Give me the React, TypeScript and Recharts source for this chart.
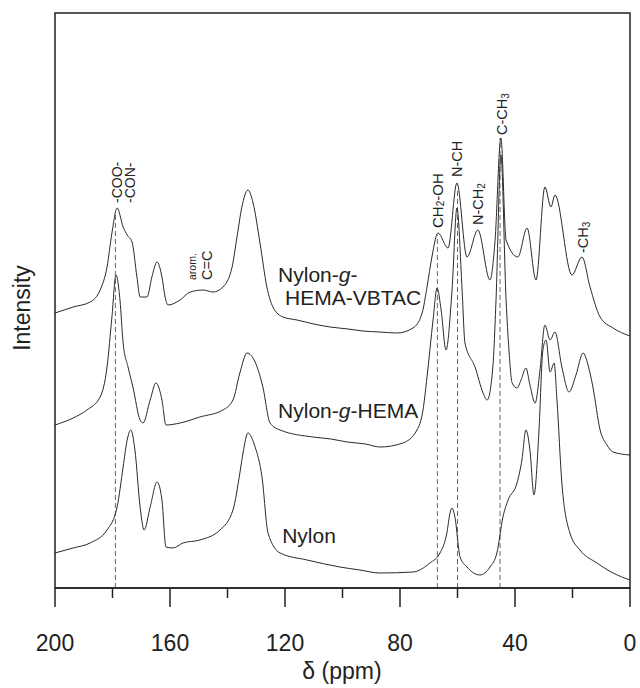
import React from 'react';
import { LineChart, Line, XAxis, YAxis, ReferenceLine, ReferenceArea, ReferenceDot } from 'recharts';

// 13C CP/MAS spectra, [chemical shift (ppm), intensity]
const vbtacTrace: [number, number][] = [
  [200, 275], [193.7, 281], [187.8, 286], [184.3, 298], [181.9, 321], [180.2, 355], [178.4, 380],
  [176.3, 361], [174.9, 353], [173.2, 346], [171.5, 311], [170.4, 291], [168.0, 291], [166.3, 311],
  [164.5, 326], [162.8, 311], [161.7, 291], [160.7, 283], [156.5, 288], [153.0, 296], [148.5, 298],
  [145.0, 296], [141.6, 301], [138.4, 321], [136.7, 351], [135.0, 381], [132.9, 398], [131.1, 385],
  [128.7, 345], [126.3, 301], [124.2, 281], [120.7, 271], [115.8, 268], [110.0, 264], [104.3, 261],
  [98.0, 259], [92.9, 257], [87.0, 256], [81.0, 255], [75.5, 260], [72.3, 275], [70.6, 301],
  [68.9, 331], [66.8, 355], [63.3, 340], [60.2, 405], [56.7, 331], [52.9, 358], [48.7, 308],
  [47.0, 345], [44.9, 450], [43.1, 348], [39.0, 331], [35.8, 360], [32.7, 308], [29.6, 401],
  [27.5, 381], [26.1, 393], [20.2, 313], [16.7, 331], [13.9, 301], [10.4, 271], [5.9, 260], [0, 252],
];

const hemaTrace: [number, number][] = [
  [200, 163], [193.7, 170], [188.9, 178], [184.3, 191], [181.9, 221], [180.2, 271], [178.8, 313],
  [177.4, 288], [176.3, 245], [174.6, 221], [172.9, 201], [170.4, 168], [169.4, 165], [166.9, 188],
  [164.9, 205], [162.8, 188], [161.4, 163], [156.5, 165], [149.6, 171], [141.6, 178], [138.1, 188],
  [135.7, 215], [133.2, 235], [130.4, 226], [127.7, 201], [125.2, 165], [121.7, 158], [110.3, 151],
  [104.0, 149], [98.4, 146], [92.0, 144], [87.0, 141], [79.0, 145], [74.1, 158], [72.0, 178],
  [70.6, 211], [68.5, 268], [67.1, 300], [65.7, 278], [64.0, 238], [61.9, 298], [60.2, 380],
  [58.4, 298], [57.4, 245], [53.9, 221], [51.1, 195], [49.7, 188], [47.7, 221], [46.6, 288],
  [44.9, 433], [43.1, 288], [42.1, 238], [41.0, 205], [39.3, 200], [37.9, 208], [36.2, 220],
  [34.8, 203], [33.0, 185], [31.3, 218], [29.6, 263], [27.8, 248], [26.1, 256], [23.7, 221],
  [21.2, 196], [18.8, 213], [16.3, 235], [14.6, 223], [12.9, 201], [10.4, 158], [8.0, 143],
  [5.9, 136], [0, 133],
];

const nylonTrace: [number, number][] = [
  [200, 35], [193.7, 40], [187.8, 45], [181.9, 58], [178.4, 81], [176.3, 121], [174.9, 148],
  [173.6, 158], [172.2, 138], [170.4, 81], [169.0, 58], [166.9, 81], [164.5, 106], [162.8, 88],
  [161.4, 41], [159.0, 40], [155.5, 45], [149.6, 48], [142.6, 58], [138.1, 78], [135.7, 115],
  [134.6, 135], [132.9, 155], [130.4, 141], [128.0, 111], [125.9, 55], [121.7, 35], [112.3, 28],
  [100.9, 21], [94.0, 18], [87.0, 15], [75.5, 16], [69.6, 25], [66.1, 35], [63.7, 55], [62.6, 75],
  [61.9, 80], [60.9, 71], [59.1, 31], [56.7, 21], [52.2, 13], [48.7, 21], [46.3, 35], [44.2, 71],
  [42.4, 88], [39.3, 105], [37.6, 128], [36.2, 158], [34.8, 138], [33.4, 93], [31.7, 155],
  [30.3, 238], [29.2, 248], [27.8, 216], [26.4, 225], [25.4, 188], [23.7, 105], [20.9, 55],
  [17.4, 38], [11.5, 25], [5.9, 15], [0, 8],
];

const ppmTicks = [0, 20, 40, 60, 80, 100, 120, 140, 160, 180, 200];

// assignment guides: [shift, top of the dashed line]
const guideLines: [number, number][] = [
  [179, 375],
  [67, 353],
  [60, 400],
  [45.2, 450],
];

const FONT = '"Liberation Sans", Arial, Helvetica, sans-serif';
const INK = '#222';

const toRows = (pts: [number, number][]) => pts.map(([ppm, i]) => ({ ppm, i }));

const PpmTick = (props: any) => {
  const { x, y, payload } = props;
  const major = payload.value % 40 === 0;
  return (
    <g>
      <line x1={x} y1={y} x2={x} y2={y + (major ? 19 : 10)} stroke={INK} strokeWidth={1.5} />
      {major && (
        <text x={x} y={y + 63} textAnchor="middle" fontSize={23} fill={INK} fontFamily={FONT}>
          {payload.value}
        </text>
      )}
    </g>
  );
};

// vertical peak label, reading bottom to top from the anchor point
const peakLabel = (content: React.ReactNode, size = 14.5) => (p: any) => (
  <text
    x={p.cx}
    y={p.cy}
    transform={`rotate(-90 ${p.cx} ${p.cy})`}
    textAnchor="start"
    dominantBaseline="central"
    fontSize={size}
    fill={INK}
    fontFamily={FONT}
  >
    {content}
  </text>
);

const traceName = (lines: React.ReactNode[], indent = 7) => (p: any) => (
  <text x={p.cx} y={p.cy} fontSize={21} fill={INK} fontFamily={FONT}>
    {lines.map((l, k) => (
      <tspan key={k} x={p.cx + (k > 0 ? indent : 0)} dy={k > 0 ? 23 : 0}>
        {l}
      </tspan>
    ))}
  </text>
);

const peakLabels: { ppm: number; i: number; text: React.ReactNode; size?: number }[] = [
  { ppm: 178.4, i: 385, text: '-COO-', size: 14 },
  { ppm: 173.9, i: 385, text: '-CON-', size: 14 },
  { ppm: 152.3, i: 308, text: 'arom.', size: 10.5 },
  { ppm: 147.1, i: 308, text: 'C=C' },
  {
    ppm: 67.1, i: 360, size: 15,
    text: <>CH<tspan fontSize={10} dy={3}>2</tspan><tspan dy={-3}>-OH</tspan></>,
  },
  { ppm: 60.2, i: 411, text: 'N-CH' },
  { ppm: 52.9, i: 363, text: <>N-CH<tspan fontSize={10} dy={3}>2</tspan></> },
  { ppm: 44.5, i: 453, text: <>C-CH<tspan fontSize={10} dy={3}>3</tspan></> },
  { ppm: 16.3, i: 335, text: <>-CH<tspan fontSize={10} dy={3}>3</tspan></> },
];

const traceNames: { ppm: number; i: number; lines: React.ReactNode[] }[] = [
  { ppm: 122.4, i: 306, lines: [<>Nylon-<tspan fontStyle="italic">g</tspan>-</>, 'HEMA-VBTAC'] },
  { ppm: 122.4, i: 170, lines: [<>Nylon-<tspan fontStyle="italic">g</tspan>-HEMA</>] },
  { ppm: 121.0, i: 45, lines: ['Nylon'] },
];

export default function App() {
  return (
    <div style={{ position: 'absolute', left: 0, top: 0, width: 640, height: 688, background: '#fff' }}>
      <LineChart width={640} height={688} margin={{ top: 13, right: 10, left: 55, bottom: 0 }}>
        <XAxis
          dataKey="ppm"
          type="number"
          domain={[0, 200]}
          reversed
          ticks={ppmTicks}
          interval={0}
          tick={PpmTick}
          tickLine={false}
          tickSize={0}
          tickMargin={0}
          height={100}
          axisLine={{ stroke: INK, strokeWidth: 1.5 }}
          allowDataOverflow
        />
        <YAxis type="number" domain={[0, 575]} hide allowDataOverflow />
        <ReferenceArea x1={200} x2={0} y1={0} y2={575} fill="none" stroke={INK} strokeWidth={1.5} />
        {guideLines.map(([ppm, top]) => (
          <ReferenceLine
            key={ppm}
            segment={[{ x: ppm, y: 0 }, { x: ppm, y: top }]}
            stroke="#666"
            strokeDasharray="5 3"
            strokeWidth={1}
          />
        ))}
        <Line data={toRows(nylonTrace)} dataKey="i" type="monotone" stroke="#2a2a2a" strokeWidth={1} dot={false} isAnimationActive={false} />
        <Line data={toRows(hemaTrace)} dataKey="i" type="monotone" stroke="#2a2a2a" strokeWidth={1} dot={false} isAnimationActive={false} />
        <Line data={toRows(vbtacTrace)} dataKey="i" type="monotone" stroke="#2a2a2a" strokeWidth={1} dot={false} isAnimationActive={false} />
        {peakLabels.map((l, k) => (
          <ReferenceDot key={'p' + k} x={l.ppm} y={l.i} r={0} shape={peakLabel(l.text, l.size)} />
        ))}
        {traceNames.map((t, k) => (
          <ReferenceDot key={'t' + k} x={t.ppm} y={t.i} r={0} shape={traceName(t.lines)} />
        ))}
      </LineChart>
      <div
        style={{
          position: 'absolute', left: 242, top: 657, width: 200, height: 28, lineHeight: '28px',
          textAlign: 'center', fontSize: 23, fontFamily: FONT, color: INK,
        }}
      >
        δ (ppm)
      </div>
      <div
        style={{
          position: 'absolute', left: -38, top: 294, width: 120, height: 28, lineHeight: '28px',
          textAlign: 'center', fontSize: 23, fontFamily: FONT, color: INK, transform: 'rotate(-90deg)',
        }}
      >
        Intensity
      </div>
    </div>
  );
}
